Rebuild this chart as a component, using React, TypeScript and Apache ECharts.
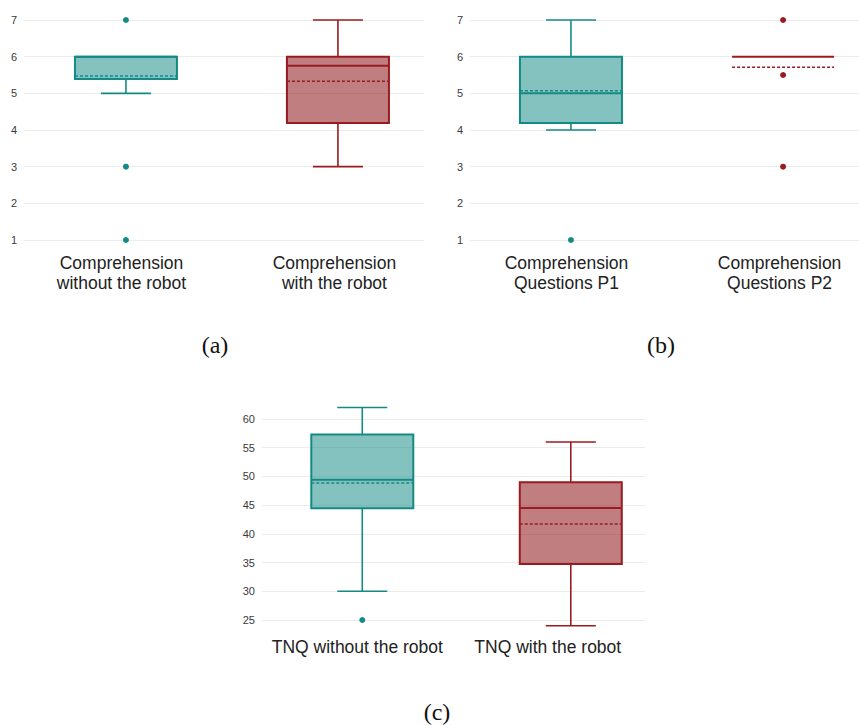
import React, { useEffect, useRef } from "react";
import * as echarts from "echarts";

// ---- data ----
// stats per box: [lowWhisker, Q1, median, Q3, highWhisker, mean]
const catsA = ["Comprehension\nwithout the robot", "Comprehension\nwith the robot"];
const statsA = [
  [5, 5.39, 6, 6, 6, 5.47],
  [3, 4.19, 5.75, 6, 7, 5.33],
];
const outliersA = [
  [1, 7, 0],
  [1, 3, 0],
  [1, 1, 0],
];

const catsB = ["Comprehension\nQuestions P1", "Comprehension\nQuestions P2"];
const statsB = [
  [4, 4.19, 5, 6, 7, 5.07],
  [6, 6, 6, 6, 6, 5.71],
];
const outliersB = [
  [1, 1, 0],
  [2, 7, 1],
  [2, 5.5, 1],
  [2, 3, 1],
];

const catsC = ["TNQ without the robot", "TNQ with the robot"];
const statsC = [
  [30, 44.45, 49.4, 57.3, 62, 48.85],
  [24, 34.75, 44.5, 49, 56, 41.7],
];
const outliersC = [[1, 25, 0]];

const captions = ["(a)", "(b)", "(c)"];

// ---- styles ----
const STROKE = ["#148a86", "#9a1b1f"];
const FILL = ["rgba(19,138,133,0.52)", "rgba(140,20,24,0.55)"];
const BOX_W = 102;
const CAP_W = 50;

function makeRender(cats: string[], yMin: number, labelOffset: number, labelDx: number[]) {
  return (params: any, api: any) => {
    const idx = params.dataIndex;
    const x = api.value(0);
    const low = api.value(1);
    const q1 = api.value(2);
    const med = api.value(3);
    const q3 = api.value(4);
    const high = api.value(5);
    const mean = api.value(6);
    const cx = api.coord([x, 0])[0];
    const yLow = api.coord([x, low])[1];
    const yQ1 = api.coord([x, q1])[1];
    const yMed = api.coord([x, med])[1];
    const yQ3 = api.coord([x, q3])[1];
    const yHigh = api.coord([x, high])[1];
    const yMean = api.coord([x, mean])[1];
    const yBase = api.coord([x, yMin])[1];
    const stroke = STROKE[idx];
    const children: any[] = [];
    if (low < q1) {
      children.push({ type: "line", shape: { x1: cx, y1: yQ1, x2: cx, y2: yLow }, style: { stroke, lineWidth: 1.6 } });
      children.push({ type: "line", shape: { x1: cx - CAP_W / 2, y1: yLow, x2: cx + CAP_W / 2, y2: yLow }, style: { stroke, lineWidth: 1.6 } });
    }
    if (high > q3) {
      children.push({ type: "line", shape: { x1: cx, y1: yQ3, x2: cx, y2: yHigh }, style: { stroke, lineWidth: 1.6 } });
      children.push({ type: "line", shape: { x1: cx - CAP_W / 2, y1: yHigh, x2: cx + CAP_W / 2, y2: yHigh }, style: { stroke, lineWidth: 1.6 } });
    }
    if (q3 > q1) {
      children.push({
        type: "rect",
        shape: { x: cx - BOX_W / 2, y: yQ3, width: BOX_W, height: yQ1 - yQ3 },
        style: { fill: FILL[idx], stroke, lineWidth: 2 },
      });
    }
    children.push({ type: "line", shape: { x1: cx - BOX_W / 2, y1: yMed, x2: cx + BOX_W / 2, y2: yMed }, style: { stroke, lineWidth: 2 } });
    children.push({
      type: "line",
      shape: { x1: cx - BOX_W / 2, y1: yMean, x2: cx + BOX_W / 2, y2: yMean },
      style: { stroke, lineWidth: 1.5, lineDash: [3, 2] },
    });
    children.push({
      type: "text",
      x: cx + labelDx[idx],
      y: yBase + labelOffset,
      style: {
        text: cats[idx],
        font: '17.5px "Liberation Sans", Arial, sans-serif',
        fill: "#222",
        align: "center",
        verticalAlign: "top",
        lineHeight: 20,
      },
    });
    return { type: "group", children };
  };
}

function toData(stats: number[][]) {
  return stats.map((s, i) => [i + 1, ...s]);
}

function yAxis(gridIndex: number, min: number, max: number, interval: number) {
  return {
    type: "value",
    gridIndex,
    min,
    max,
    interval,
    axisLine: { show: false },
    axisTick: { show: false },
    axisLabel: { color: "#3a3a3a", fontSize: 11, margin: 7, fontFamily: '"Liberation Sans", Arial, sans-serif' },
    splitLine: { show: true, lineStyle: { color: "#ebebeb", width: 1 } },
  };
}

function xAxis(gridIndex: number, min: number, max: number) {
  return { type: "value", gridIndex, min, max, show: false, splitLine: { show: false } };
}

function scatter(idx: number, pts: number[][]) {
  return {
    type: "scatter",
    xAxisIndex: idx,
    yAxisIndex: idx,
    clip: false,
    symbolSize: 6,
    data: pts.map((p) => ({ value: [p[0], p[1]], itemStyle: { color: STROKE[p[2]], opacity: 1 } })),
    z: 5,
  };
}

export default function App() {
  const ref = useRef<HTMLDivElement>(null);
  useEffect(() => {
    if (!ref.current) return;
    const chart = echarts.init(ref.current, null, { renderer: "svg" });
    chart.setOption({
      animation: false,
      backgroundColor: "#ffffff",
      grid: [
        { left: 24, width: 400, top: 20, height: 220 },
        { left: 470, width: 389, top: 20, height: 220 },
        { left: 262, width: 383, top: 419, height: 201 },
      ],
      xAxis: [xAxis(0, 0.519, 2.406), xAxis(1, 0.524, 2.358), xAxis(2, 0.519, 2.356)],
      yAxis: [yAxis(0, 1, 7, 1), yAxis(1, 1, 7, 1), yAxis(2, 25, 60, 5)],
      series: [
        { type: "custom", xAxisIndex: 0, yAxisIndex: 0, clip: false, renderItem: makeRender(catsA, 1, 13, [-4.5, -3.5]), data: toData(statsA) },
        { type: "custom", xAxisIndex: 1, yAxisIndex: 1, clip: false, renderItem: makeRender(catsB, 1, 13, [-4.5, -3.5]), data: toData(statsB) },
        { type: "custom", xAxisIndex: 2, yAxisIndex: 2, clip: false, renderItem: makeRender(catsC, 25, 17, [-5, -23]), data: toData(statsC) },
        scatter(0, outliersA),
        scatter(1, outliersB),
        scatter(2, outliersC),
      ],
      graphic: [
        { type: "text", x: 215, y: 345, style: { text: captions[0], font: '24px "Liberation Serif", serif', fill: "#111", align: "center", verticalAlign: "middle" } },
        { type: "text", x: 661, y: 345, style: { text: captions[1], font: '24px "Liberation Serif", serif', fill: "#111", align: "center", verticalAlign: "middle" } },
        { type: "text", x: 437, y: 712, style: { text: captions[2], font: '24px "Liberation Serif", serif', fill: "#111", align: "center", verticalAlign: "middle" } },
      ],
    });
    return () => chart.dispose();
  }, []);
  return <div ref={ref} style={{ position: "fixed", left: 0, top: 0, width: 859, height: 725 }} />;
}
